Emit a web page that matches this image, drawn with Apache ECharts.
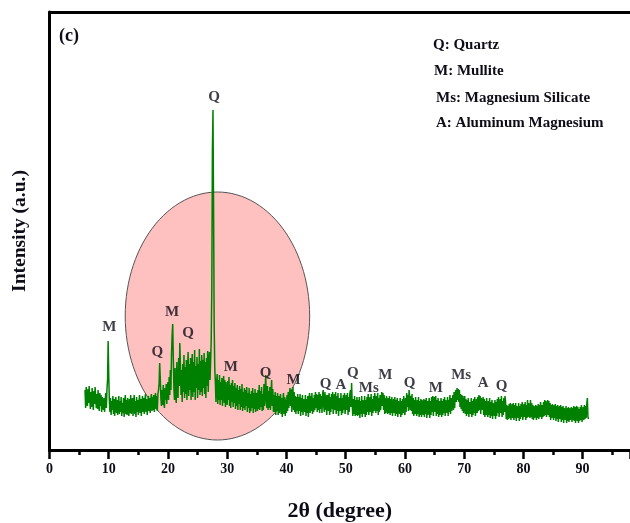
<!DOCTYPE html>
<html>
<head>
<meta charset="utf-8">
<script src="https://cdn.jsdelivr.net/npm/echarts@6/dist/echarts.min.js"></script>
<style>
  html, body { margin: 0; padding: 0; background: #fff; }
  #chart { width: 630px; height: 523px; }
</style>
</head>
<body>
<div id="chart"></div>
<script>
// XRD scan (c): counts recorded every 0.1° of 2θ, from 6.0° to 91.0°
const scanStart = 6.0;
const scanStep = 0.1;
const counts = [
  60,42,63,50,44,61,47,64,52,41,   // 6
  58,43,62,49,40,59,46,63,51,42,   // 7
  56,41,60,47,39,57,44,55,38,53,   // 8
  55,40,52,38,50,57,42,61,70,109,  // 9
  75,50,38,52,35,49,40,54,36,51,   // 10
  34,48,53,37,50,35,46,54,36,49,   // 11
  38,53,34,47,37,52,33,46,55,36,   // 12
  50,35,52,39,34,51,37,55,36,48,   // 13
  52,34,46,55,36,49,33,53,38,50,   // 14
  35,48,55,37,51,34,47,54,38,52,   // 15
  36,49,56,38,51,35,48,54,39,52,   // 16
  37,50,56,39,53,40,55,38,51,57,   // 17
  41,54,39,56,60,66,87,72,52,44,   // 18
  60,45,65,48,42,62,50,66,46,63,   // 19
  68,50,73,55,80,60,96,115,126,92, // 20
  62,50,82,55,47,88,58,52,92,64,   // 21
  107,85,55,80,48,86,58,95,52,83,  // 22
  56,90,50,80,98,54,86,60,92,50,   // 23
  82,96,53,88,58,100,50,84,62,93,  // 24
  52,86,60,101,55,89,58,95,54,90,  // 25
  62,97,56,88,52,92,64,99,58,87,   // 26
  98,70,88,110,160,300,340,240,125,82, // 27
  68,48,66,76,46,70,50,75,45,68,   // 28
  50,72,44,66,74,47,70,43,68,52,   // 29
  45,69,50,73,44,65,42,67,48,70,   // 30
  43,64,47,67,41,62,44,65,40,60,   // 31
  46,64,40,61,43,66,39,58,42,62,   // 32
  40,60,44,63,38,57,42,62,37,56,   // 33
  39,59,42,62,37,57,41,61,38,54,   // 34
  57,39,60,41,65,40,59,43,63,39,   // 35
  56,40,66,44,60,75,48,42,64,40,   // 36
  59,42,63,40,57,70,44,61,38,55,   // 37
  38,58,35,54,39,57,35,54,37,51,   // 38
  56,36,52,33,50,57,36,53,34,50,   // 39
  37,55,39,58,42,56,62,44,60,38,   // 40
  56,63,40,58,38,54,36,53,39,56,   // 41
  36,53,39,56,34,52,38,55,35,51,   // 42
  52,38,55,34,51,37,54,33,50,57,   // 43
  37,54,39,57,36,52,38,55,40,58,   // 44
  42,56,38,55,40,58,37,56,41,54,   // 45
  37,56,60,43,38,58,40,55,35,52,   // 46
  55,39,57,35,53,38,56,41,58,36,   // 47
  38,56,40,58,36,54,39,57,34,52,   // 48
  54,39,57,35,52,37,55,40,57,36,   // 49
  37,55,40,57,35,53,38,56,60,43,   // 50
  67,46,34,51,36,54,34,50,35,53,   // 51
  34,50,35,53,32,49,36,54,33,50,   // 52
  49,36,54,33,50,35,53,38,56,35,   // 53
  35,53,38,56,34,51,37,54,39,57,   // 54
  51,37,54,39,57,35,52,38,55,40,   // 55
  42,58,44,57,40,55,36,52,37,54,   // 56
  55,36,52,37,54,35,51,37,53,34,   // 57
  35,51,37,53,34,50,36,52,33,49,   // 58
  50,36,52,33,49,35,51,37,54,38,   // 59
  35,52,38,57,43,55,39,60,54,40,   // 60
  54,39,56,36,52,34,50,36,53,38,   // 61
  34,50,36,53,33,49,35,51,33,50,   // 62
  49,35,51,33,50,36,52,32,49,35,   // 63
  36,52,32,49,35,53,38,54,34,50,   // 64
  53,38,54,34,50,36,52,33,49,35,   // 65
  36,52,33,49,35,51,37,53,34,50,   // 66
  51,37,53,34,50,38,55,36,52,39,   // 67
  38,55,40,58,42,56,60,48,62,50,   // 68
  61,48,60,43,56,41,55,39,54,37,   // 69
  39,54,36,51,34,50,36,52,33,48,   // 70
  50,36,52,33,49,35,51,37,53,34,   // 71
  35,51,37,53,39,55,40,54,36,52,   // 72
  54,40,53,35,51,33,49,35,52,37,   // 73
  33,49,35,52,32,48,34,50,31,47,   // 74
  48,34,50,31,48,34,51,37,53,33,   // 75
  34,51,37,54,33,49,35,52,38,54,   // 76
  48,31,45,30,44,31,46,32,47,30,   // 77
  31,46,32,47,30,45,32,47,29,44,   // 78
  45,32,47,29,44,31,46,33,48,30,   // 79
  31,46,33,48,30,45,32,50,33,47,   // 80
  45,32,50,33,47,31,45,30,44,32,   // 81
  31,45,30,44,32,46,31,45,33,48,   // 82
  46,31,45,33,48,34,50,35,49,33,   // 83
  34,50,35,49,33,47,30,45,32,46,   // 84
  47,30,45,32,46,29,44,31,45,28,   // 85
  29,44,31,45,28,43,30,44,27,42,   // 86
  43,30,44,27,42,29,43,28,42,30,   // 87
  29,43,28,42,30,44,29,43,27,41,   // 88
  44,29,43,27,41,29,43,30,45,28,   // 89
  29,43,30,45,31,44,32,46,52,33,   // 90
  31                               // 91
];

// Phase markers above the peaks
const peakNames  = ['M', 'Q', 'M', 'Q', 'Q', 'M', 'Q', 'M', 'Q', 'A', 'Q', 'Ms', 'M', 'Q', 'M', 'Ms', 'A', 'Q'];
const peakLabelX = [10.1, 18.2, 20.7, 23.4, 27.8, 30.6, 36.5, 41.2, 46.6, 49.2, 51.2, 53.9, 56.7, 60.8, 65.2, 69.5, 73.2, 76.3];
const peakLabelY = [123, 98, 138, 117, 353, 83, 77, 70, 66, 65, 77, 62, 75, 67, 62, 75, 67, 64];

// Phase key
const phaseKey = ['Q: Quartz', 'M: Mullite', 'Ms: Magnesium Silicate', 'A: Aluminum Magnesium'];

// Highlighted amorphous region: centre (2θ, intensity) and radii
const haloRegion = [28.35, 134, 15.57, 124];

// Axis settings
const xTicks = { min: 0, max: 98, interval: 10 };
const yRange = { min: 0, max: 438 };

const pattern = counts.map((c, i) => [+(scanStart + i * scanStep).toFixed(1), c]);

const FONT = '"Liberation Serif", "DejaVu Serif", serif';
const INK = '#0d0d18';
const chart = echarts.init(document.getElementById('chart'));

chart.setOption({
  animation: false,
  backgroundColor: '#ffffff',
  grid: { left: 49.5, right: 0, top: 12, bottom: 73, containLabel: false, outerBoundsMode: 'none' },
  xAxis: [{
    type: 'value',
    min: xTicks.min, max: xTicks.max, interval: xTicks.interval,
    position: 'bottom',
    name: '2θ (degree)',
    nameLocation: 'middle',
    nameGap: 50,
    nameTextStyle: { fontFamily: FONT, fontWeight: 'bold', fontSize: 22, color: INK },
    axisLine: { show: true, onZero: false, lineStyle: { color: '#000', width: 3 } },
    axisTick: { show: true, inside: false, length: 9, lineStyle: { color: '#000', width: 2.5 } },
    minorTick: { show: true, splitNumber: 2, length: 5, lineStyle: { color: '#000', width: 2.5 } },
    axisLabel: {
      margin: 12, fontFamily: FONT, fontWeight: 'bold', fontSize: 14, color: INK,
      showMaxLabel: false,
      formatter: v => (v > 90 ? '' : String(v))
    },
    splitLine: { show: false }
  }, {
    type: 'value',
    min: xTicks.min, max: xTicks.max,
    position: 'top',
    axisLine: { show: true, onZero: false, lineStyle: { color: '#000', width: 3 } },
    axisTick: { show: false },
    axisLabel: { show: false },
    splitLine: { show: false }
  }],
  yAxis: {
    type: 'value',
    min: yRange.min, max: yRange.max,
    name: 'Intensity (a.u.)',
    nameLocation: 'middle',
    nameGap: 20,
    nameTextStyle: { fontFamily: FONT, fontWeight: 'bold', fontSize: 19.5, color: INK },
    axisLine: { show: true, onZero: false, lineStyle: { color: '#000', width: 3 } },
    axisTick: { show: false },
    axisLabel: { show: false },
    splitLine: { show: false }
  },
  graphic: [
    {
      type: 'text', left: 59, top: 27, z: 10,
      style: { text: '(c)', fontFamily: FONT, fontWeight: 'bold', fontSize: 18, fill: INK }
    },
    ...phaseKey.map((t, i) => ({
      type: 'text',
      left: [433, 434, 436, 436][i],
      top: [38, 64, 91, 116][i],
      z: 10,
      style: { text: t, fontFamily: FONT, fontWeight: 'bold', fontSize: 15, fill: INK }
    }))
  ],
  series: [
    {
      // pink ellipse marking the broad hump
      type: 'custom',
      z: 1,
      silent: true,
      data: [haloRegion],
      renderItem: (params, api) => {
        const cx = api.value(0), cy = api.value(1), rx = api.value(2), ry = api.value(3);
        const pts = [];
        for (let k = 0; k < 120; k++) {
          const t = (k / 120) * Math.PI * 2;
          pts.push(api.coord([cx + rx * Math.cos(t), cy + ry * Math.sin(t)]));
        }
        return {
          type: 'polygon',
          shape: { points: pts },
          style: { fill: '#ffc0c0', stroke: '#555', lineWidth: 1 }
        };
      }
    },
    {
      type: 'line',
      z: 3,
      data: pattern,
      showSymbol: false,
      symbol: 'none',
      lineStyle: { color: '#008000', width: 1.5 },
      silent: true
    },
    {
      type: 'scatter',
      z: 4,
      symbolSize: 0,
      silent: true,
      data: peakLabelX.map((x, i) => ({ value: [x, peakLabelY[i]], name: peakNames[i] })),
      label: {
        show: true,
        position: 'inside',
        formatter: p => p.name,
        fontFamily: FONT, fontWeight: 'bold', fontSize: 15, color: INK
      }
    }
  ]
});
</script>
</body>
</html>
